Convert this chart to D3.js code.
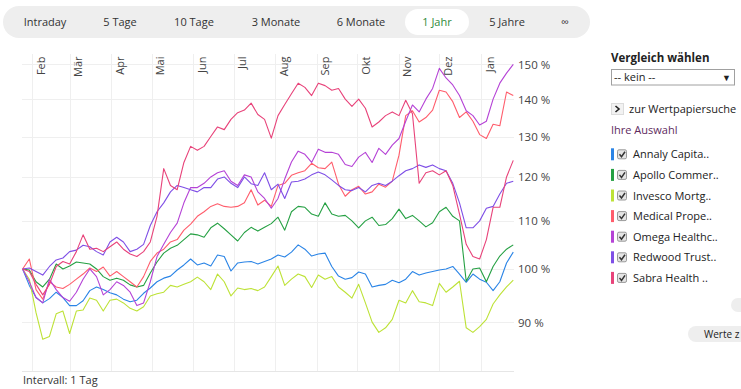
<!DOCTYPE html>
<html>
<head>
<meta charset="utf-8">
<script src="https://cdn.jsdelivr.net/npm/d3@7"></script>
<style>
  body { margin: 0; background: #fff; }
  svg { display: block; font-family: "Open Sans", sans-serif; }
</style>
</head>
<body>
<div id="chart"></div>
<script>
// series values in percent of the first day, one value every 5 days
var annaly = [100,96.8,94.5,93.5,94.3,95.5,94.5,93.0,93.0,93.9,
  95.8,96.5,96.0,95.4,95.0,94.2,93.7,94.0,95.3,96.3,
  97.5,98.2,98.6,99.8,100.8,102.0,100.8,101.2,100.6,102.8,
  102.5,99.6,101.2,101.4,101.5,101.0,101.5,102.0,102.8,102.4,
  103.4,104.9,104.0,102.6,103.0,103.2,100.5,98.6,98.0,98.3,
  99.4,99.0,96.5,96.8,97.0,97.8,97.3,98.0,99.5,98.8,
  99.2,99.5,99.8,100.0,100.5,99.0,97.4,99.0,98.0,97.4,
  95.8,97.5,101.2,103.4];
var apollo = [100,99.8,97.5,96.5,98.0,101.0,100.0,100.6,101.4,101.2,
  101.0,100.0,98.5,97.8,98.2,97.8,96.9,96.5,96.8,99.2,
  101.4,103.2,104.2,104.8,106.0,107.2,107.0,106.5,108.5,109.5,
  108.3,107.0,105.7,107.5,108.6,107.8,108.6,109.4,110.8,108.0,
  112.0,113.2,113.0,111.5,111.0,114.0,111.5,111.0,111.2,110.0,
  108.5,110.0,110.8,109.0,109.2,110.5,112.6,110.5,111.2,110.0,
  108.7,109.6,112.0,113.0,111.0,110.0,97.6,100.0,100.2,97.5,
  100.5,102.6,104.0,104.9];
var invesco = [100,98.0,91.7,87.0,87.5,91.5,92.0,88.0,92.0,92.2,
  94.4,94.0,92.0,94.0,94.2,93.5,92.5,92.0,92.8,94.8,
  95.2,95.5,96.8,96.5,97.0,97.5,98.4,97.5,96.0,99.0,
  97.5,94.8,96.3,96.0,96.2,95.8,96.5,98.5,100.6,96.8,
  98.0,99.0,98.5,96.4,98.8,98.0,98.5,96.5,95.5,94.4,
  97.0,93.5,90.0,88.2,89.0,90.5,94.0,93.5,95.8,93.7,
  93.5,93.0,97.2,95.5,96.5,97.6,89.0,88.2,89.2,90.5,
  93.3,95.0,96.5,97.8];
var medical = [100,102,96,94.2,97.5,96.5,96.2,97,98,99,
  100.2,99.5,100.4,98.6,99.5,98.5,97.5,96.5,98.5,101.5,
  103.2,104,105.5,106,108,109.3,111,112,113.2,113.8,
  113.2,113,113.2,114,117,113.5,114.6,113.2,118,118.5,
  120.4,121,121.5,123.3,122.2,122,123.6,118.3,115.5,117,
  117.8,116,116.5,118.3,117.6,119,125.3,135.5,136.8,133.8,
  135,137,142.5,142,139.3,135,136.5,134,130.5,129.5,
  133.2,132.8,142,141];
var omega = [100,97.5,94.5,93.5,98,96,94.5,93.8,95.5,98,
  100,98.5,95,96,97.5,96.8,95.5,93,93.5,97.5,
  102.5,105,107.5,109.5,114,117.5,117.5,118.5,120,121,
  121.5,119,118,120.5,120,116.5,115,112.8,115,119.5,
  123.6,126.3,125.5,123.5,126.8,126,126,125.5,123,122.5,
  124.8,126,123.5,127,125.5,127.8,129.5,134,138.4,136.5,
  140,143,148.8,146,144,141,136.8,135.5,133,134,
  140,144.5,147.4,150];
var redwood = [100,100.2,99.5,98.8,100.5,101.8,102.2,103.5,103.8,104.8,
  104.5,103.5,102.8,105.5,106.5,105.5,103.5,104,105,109,
  112,114,116.5,118,117.5,117,116.5,117.5,117.5,119.5,
  120,118.5,117.5,120,118.4,118,121,117,118.3,115,
  118.8,119,119.5,120.5,121.2,120.5,119.3,118,117,116.8,
  117.5,116.5,118,118.5,118,119,120.3,121.5,122,122.9,
  122.3,122.9,122,121.5,118.5,114,108.5,108.5,110,112.8,
  113.2,116,118.5,119];
var sabra = [100,99.5,97,95,97,100.5,101.5,101,103.5,107,
  104,104.2,103.5,104.5,105.5,104,103,102.5,103.5,105.5,
  111,122,118,117,123.5,127.5,126.5,127.5,130,132.5,
  131.8,134.5,136.3,137,138.9,135.8,134.5,129.6,135.5,138.5,
  141.5,144.5,143.3,141,144.5,143.8,142.5,143,140,138,
  140,137.5,132.5,133.8,135.5,136.5,135.5,139.7,136,118.5,
  121,121.5,120.5,121.5,118,111.5,105,102.5,102,106,
  113,113,120,124];

var seriesNames = ['Annaly Capita..', 'Apollo Commer..', 'Invesco Mortg..', 'Medical Prope..',
  'Omega Healthc..', 'Redwood Trust..', 'Sabra Health ..'];
var seriesColors = ['#2a84e6', '#25a043', '#bde236', '#ff5d6c', '#b543d6', '#7f4fe6', '#e8437a'];
var seriesValues = [annaly, apollo, invesco, medical, omega, redwood, sabra];

var monthLabels = ['Feb', 'Mär', 'Apr', 'Mai', 'Jun', 'Jul', 'Aug', 'Sep', 'Okt', 'Nov', 'Dez', 'Jan'];
var yTicks = [90, 100, 110, 120, 130, 140, 150];
var tabLabels = ['Intraday', '5 Tage', '10 Tage', '3 Monate', '6 Monate', '1 Jahr', '5 Jahre', '∞'];
var activeTab = '1 Jahr';

// sample dates: every 5 days from 25 Jan
var startDate = new Date(2018, 0, 25);
var dates = d3.range(annaly.length).map(function (i) { return d3.timeDay.offset(startDate, i * 5); });

var width = 741;
var height = 389;
var plotLeft = 22, plotRight = 514, plotTop = 54, plotBottom = 371;

var svg = d3.select('#chart').append('svg')
  .attr('width', width)
  .attr('height', height);

// scales
var x = d3.scaleTime()
  .domain([new Date(2018, 1, 1), new Date(2019, 0, 1)])
  .range([32, 481]);
var y = d3.scaleLog()
  .domain([81.7, 153.1])
  .range([plotBottom, plotTop]);

// tab bar on top
var tabX = [45, 120, 194, 276, 361, 437, 507, 565];
var tabs = svg.append('g');
tabs.append('rect')
  .attr('x', 3).attr('y', 6).attr('width', 587).attr('height', 32)
  .attr('rx', 16).attr('fill', '#eeeeee');
tabs.append('rect')
  .attr('x', 405).attr('y', 9).attr('width', 64).attr('height', 26)
  .attr('rx', 13).attr('fill', '#fff');
tabs.selectAll('text').data(tabLabels).enter().append('text')
  .attr('x', function (d, i) { return tabX[i]; })
  .attr('y', 26)
  .attr('text-anchor', 'middle')
  .attr('font-size', 11)
  .attr('fill', function (d) { return d === activeTab ? '#2e8b3a' : '#333'; })
  .text(function (d) { return d; });

// grid
var grid = svg.append('g');
grid.selectAll('.hgrid').data(yTicks).enter().append('line')
  .attr('x1', plotLeft).attr('x2', plotRight)
  .attr('y1', function (d) { return Math.round(y(d)) + 0.5; })
  .attr('y2', function (d) { return Math.round(y(d)) + 0.5; })
  .attr('stroke', '#efefef');
grid.append('line')
  .attr('x1', plotLeft).attr('x2', plotRight)
  .attr('y1', plotBottom + 0.5).attr('y2', plotBottom + 0.5)
  .attr('stroke', '#e6e6e6');

var months = d3.timeMonth.range(new Date(2018, 1, 1), new Date(2019, 1, 1));
grid.selectAll('.vgrid').data(months).enter().append('line')
  .attr('x1', function (d) { return Math.round(x(d)) + 0.5; })
  .attr('x2', function (d) { return Math.round(x(d)) + 0.5; })
  .attr('y1', plotTop).attr('y2', plotBottom)
  .attr('stroke', '#efefef');

grid.selectAll('.mlabel').data(months).enter().append('text')
  .attr('transform', function (d) { return 'translate(' + (x(d) + 12.5) + ',56.5) rotate(-90)'; })
  .attr('text-anchor', 'end')
  .attr('font-size', 11)
  .attr('fill', '#444')
  .text(function (d, i) { return monthLabels[i]; });

grid.selectAll('.ylabel').data(yTicks).enter().append('text')
  .attr('x', 518)
  .attr('y', function (d) { return y(d) + 4.5; })
  .attr('font-size', 11.5)
  .attr('fill', '#444')
  .text(function (d) { return d + ' %'; });

// lines
var line = d3.line()
  .x(function (d) { return x(d.date); })
  .y(function (d) { return y(d.value); });

svg.append('g').selectAll('path')
  .data(seriesValues.map(function (vals, k) {
    return { color: seriesColors[k], points: vals.map(function (v, i) { return { date: dates[i], value: v }; }) };
  }))
  .enter().append('path')
  .attr('d', function (d) { return line(d.points); })
  .attr('fill', 'none')
  .attr('stroke', function (d) { return d.color; })
  .attr('stroke-width', 1.1)
  .attr('stroke-linejoin', 'round');

svg.append('text')
  .attr('x', 23).attr('y', 384)
  .attr('font-size', 11)
  .attr('fill', '#333')
  .text('Intervall: 1 Tag');

// right side panel
var panel = svg.append('g');
panel.append('text')
  .attr('x', 611).attr('y', 62)
  .attr('font-size', 11.5).attr('font-weight', 'bold').attr('fill', '#222')
  .text('Vergleich wählen');
panel.append('rect')
  .attr('x', 611.5).attr('y', 69.5).attr('width', 123).attr('height', 15.5)
  .attr('fill', '#fff').attr('stroke', '#a0a0a0');
panel.append('text')
  .attr('x', 614).attr('y', 81)
  .attr('font-size', 11).attr('fill', '#222')
  .text('-- kein --');
panel.append('text')
  .attr('x', 722).attr('y', 80.5)
  .attr('font-size', 9).attr('fill', '#222')
  .text('▼');

panel.append('rect')
  .attr('x', 611.5).attr('y', 103.5).attr('width', 12).attr('height', 11)
  .attr('fill', '#f2f2f2').attr('stroke', '#dcdcdc');
panel.append('path')
  .attr('d', 'M615.5,106 L619,109 L615.5,112')
  .attr('fill', 'none').attr('stroke', '#222').attr('stroke-width', 1.6);
panel.append('text')
  .attr('x', 629).attr('y', 112.5)
  .attr('font-size', 11).attr('fill', '#222')
  .text('zur Wertpapiersuche');

panel.append('text')
  .attr('x', 611).attr('y', 134)
  .attr('font-size', 11).attr('fill', '#5e2a5e')
  .text('Ihre Auswahl');

var items = panel.selectAll('.item').data(seriesNames).enter().append('g')
  .attr('transform', function (d, i) { return 'translate(0,' + (154.3 + i * 20.6) + ')'; });
items.append('rect')
  .attr('x', 611).attr('y', -6).attr('width', 3).attr('height', 12)
  .attr('fill', function (d, i) { return seriesColors[i]; });
items.append('rect')
  .attr('x', 617.5).attr('y', -4.5).attr('width', 9).attr('height', 9)
  .attr('rx', 1.5)
  .attr('fill', '#e4e4e4').attr('stroke', '#9a9a9a');
items.append('path')
  .attr('d', 'M619.5,0 L621.5,2.5 L625,-2.5')
  .attr('fill', 'none').attr('stroke', '#333').attr('stroke-width', 1.5);
items.append('text')
  .attr('x', 633).attr('y', 4)
  .attr('font-size', 11).attr('fill', '#222')
  .text(function (d) { return d; });

// bits of buttons cut off at the right edge
panel.append('rect')
  .attr('x', 731).attr('y', 298).attr('width', 30).attr('height', 14)
  .attr('rx', 7).attr('fill', '#eeeeee');
panel.append('rect')
  .attr('x', 688).attr('y', 326).attr('width', 80).attr('height', 16)
  .attr('rx', 8).attr('fill', '#eeeeee');
panel.append('text')
  .attr('x', 704).attr('y', 337.5)
  .attr('font-size', 10).attr('fill', '#222')
  .text('Werte z');
</script>
</body>
</html>
